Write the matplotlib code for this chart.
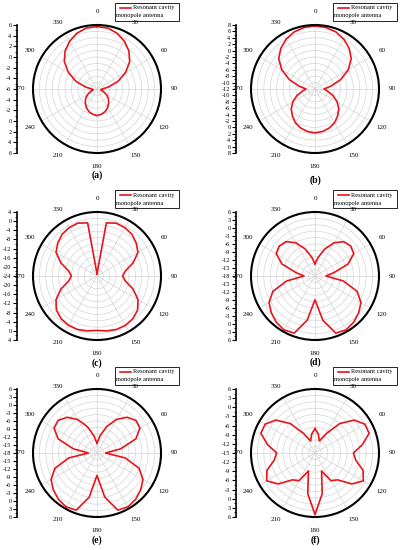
import numpy as np
import matplotlib
matplotlib.use("Agg")
import matplotlib.pyplot as plt
from matplotlib.patches import Rectangle
from matplotlib.lines import Line2D

plt.rcParams['font.family'] = ['Liberation Serif', 'DejaVu Serif']

angles_deg = list(range(0, 360, 10))

# gain values (dB) at 0,10,...,350 degrees
gain_a = [5.7, 5.6, 5.1, 4.3, 3.3, 2.0, 0.2, -1.8, -3.8, -5.0, -5.3, -4.8, -4.0, -3.2, -2.6, -2.0, -1.5, -1.2, -1.0,
          -1.2, -1.5, -2.0, -2.6, -3.2, -4.0, -4.8, -5.3, -5.0, -3.8, -1.8, 0.2, 2.0, 3.3, 4.3, 5.1, 5.6]
gain_b = [7.7, 7.5, 7.0, 6.0, 4.6, 2.8, 0.0, -3.5, -7.0, -9.2, -8.0, -6.0, -4.0, -2.3, -1.0, 0.2, 1.0, 1.5, 1.7,
          1.5, 1.0, 0.2, -1.0, -2.3, -4.0, -6.0, -8.0, -9.2, -7.0, -3.5, 0.0, 2.8, 4.6, 6.0, 7.0, 7.5]
gain_c = [-23.0, -0.4, 0.6, 0.4, -0.2, -1.6, -3.3, -7.2, -11.4, -12.8, -11.4, -7.2, -3.3, -0.8, 0.4, 0.9, 0.9, 0.4, -0.2,
          0.4, 0.9, 0.9, 0.4, -0.8, -3.3, -7.2, -11.4, -12.8, -11.4, -7.2, -3.3, -1.6, -0.2, 0.4, 0.6, -0.4]
gain_d = [-13.4, -10.8, -7.2, -3.6, -1.2, -0.5, -1.2, -4.8, -10.8, -13.9, -7.2, -1.2, 1.9, 3.4, 4.6, 5.3, 4.8, -1.2, -9.1,
          -1.2, 4.8, 5.3, 4.6, 3.4, 1.9, -1.2, -7.2, -13.9, -10.8, -4.8, -1.2, -0.5, -1.2, -3.6, -7.2, -10.8]
gain_e = [-14.4, -11.5, -7.5, -3.5, -0.5, 1.0, 0.6, -2.5, -9.0, -14.8, -7.2, -1.2, 1.9, 3.4, 4.6, 5.3, 4.8, -1.2, -9.6,
          -1.2, 4.8, 5.3, 4.6, 3.4, 1.9, -1.2, -7.2, -14.8, -9.0, -2.5, 0.6, 1.0, -0.5, -3.5, -7.5, -11.5]
gain_f = [-7.0, -8.7, -10.8, -7.7, -2.4, 1.8, 3.9, 3.9, 0.8, -2.4, -1.4, 1.8, 3.3, 0.8, -3.5, -4.5, -8.7, -1.4, 5.2,
          -1.4, -8.7, -4.5, -3.5, 0.8, 3.3, 1.8, -1.4, -2.4, 0.8, 3.9, 3.9, 1.8, -2.4, -7.7, -10.8, -8.7]

panels = [
    ("(a)", gain_a, -6, 6, 2),
    ("(b)", gain_b, -12, 8, 2),
    ("(c)", gain_c, -24, 4, 4),
    ("(d)", gain_d, -18, 6, 3),
    ("(e)", gain_e, -18, 6, 3),
    ("(f)", gain_f, -15, 6, 3),
]

W, H = 403, 550
fig = plt.figure(figsize=(W / 100, H / 100), dpi=100)

centers = [(97, 89), (315, 89), (97, 276), (315, 276), (97, 453), (315, 453)]
axis_x = [17, 236, 17, 236, 17, 236]
label_y = [175, 180, 363, 362, 540, 540]
R = 64

for i, (lab, g, rmin, rmax, step) in enumerate(panels):
    cx, cy = centers[i]
    ax = fig.add_axes([(cx - R) / W, 1 - (cy + R) / H, 2 * R / W, 2 * R / H], projection='polar')
    ax.set_theta_zero_location('N')
    ax.set_theta_direction(-1)
    th = np.deg2rad(angles_deg + [angles_deg[0]])
    ax.plot(th, list(g) + [g[0]], color='#e8141c', lw=1.2)
    ax.set_ylim(rmin, rmax)
    ax.set_yticks(np.linspace(rmin, rmax, 11))
    ax.set_yticklabels([])
    ax.set_xticks(np.deg2rad(np.arange(0, 360, 30)))
    ax.set_xticklabels([str(a) for a in range(0, 360, 30)], fontsize=5)
    ax.tick_params(axis='x', pad=-1)
    ax.grid(True, color='#d4d4d4', lw=0.5)
    ax.spines['polar'].set_linewidth(1.5)

    # left linear scale
    span = rmax - rmin
    lax = fig.add_axes([axis_x[i] / W, 1 - (cy + R) / H, 0.001, 2 * R / H])
    lax.set_ylim(-span, span)
    for s in ['top', 'right', 'bottom']:
        lax.spines[s].set_visible(False)
    lax.spines['left'].set_linewidth(1.2)
    lax.set_xticks([])
    vals = np.arange(rmin, rmax + 0.01, step)
    pos = list(-(vals[::-1] - rmin)) + list(vals[1:] - rmin)
    labs = [f"{v:g}" for v in vals[::-1]] + [f"{v:g}" for v in vals[1:]]
    lax.set_yticks(pos)
    lax.set_yticklabels(labs, fontsize=4.5)
    lax.set_yticks(np.arange(-span, span + 0.01, step / 2), minor=True)
    lax.tick_params(axis='y', which='major', length=3, width=0.8, pad=1)
    lax.tick_params(axis='y', which='minor', length=1.5, width=0.6)

    # legend box
    lx0 = cx + 18
    ly0 = cy - 86
    fig.patches.append(Rectangle((lx0 / W, 1 - (ly0 + 18) / H), 64 / W, 18 / H,
                                 transform=fig.transFigure, fill=False, ec='black', lw=0.6))
    fig.lines.append(Line2D([(lx0 + 5) / W, (lx0 + 16) / W], [1 - (ly0 + 5) / H] * 2,
                            transform=fig.transFigure, color='#e8141c', lw=1.2))
    fig.text((lx0 + 18) / W, 1 - (ly0 + 5) / H, "Resonant cavity", fontsize=4.6, va='center')
    fig.text((lx0 + 1) / W, 1 - (ly0 + 13) / H, "monopole antenna", fontsize=4.6, va='center')

    fig.text(cx / W, 1 - label_y[i] / H, lab, fontsize=7, ha='center', va='center', fontweight='bold')

fig.savefig("out.png", dpi=100)
